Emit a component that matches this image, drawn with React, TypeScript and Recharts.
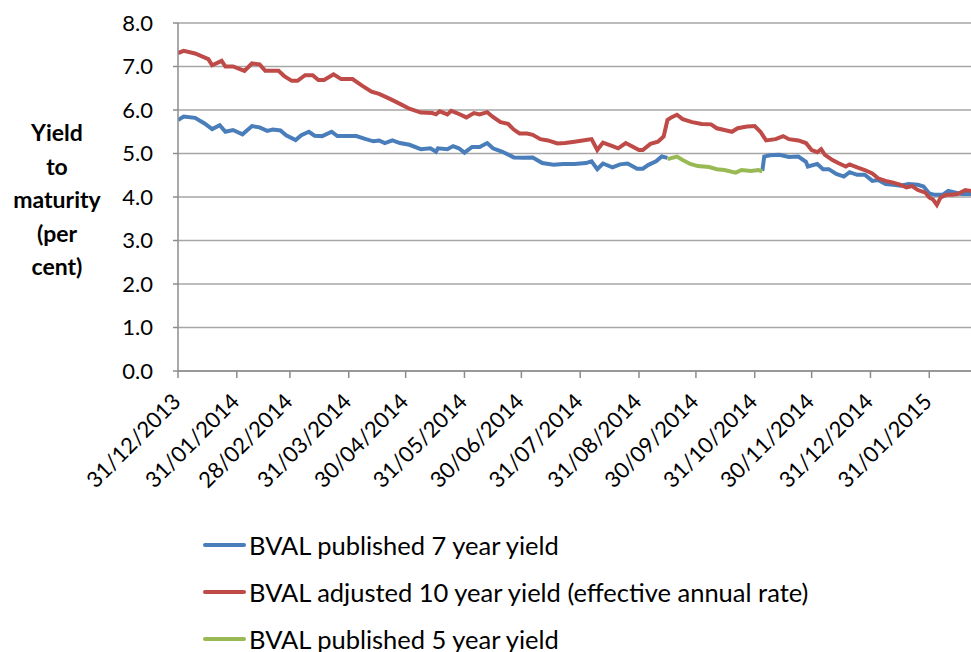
import { CartesianGrid, Legend, Line, LineChart, XAxis, YAxis } from "recharts";

const sevenYearDates = [
  "2013-12-31", "2014-01-03", "2014-01-09", "2014-01-14", "2014-01-18", "2014-01-22", "2014-01-25", "2014-01-29",
  "2014-02-03", "2014-02-08", "2014-02-12", "2014-02-16", "2014-02-19", "2014-02-23", "2014-02-26", "2014-03-03",
  "2014-03-06", "2014-03-10", "2014-03-13", "2014-03-17", "2014-03-22", "2014-03-25", "2014-03-31", "2014-04-04",
  "2014-04-09", "2014-04-13", "2014-04-16", "2014-04-19", "2014-04-23", "2014-04-27", "2014-05-02", "2014-05-08",
  "2014-05-13", "2014-05-16", "2014-05-17", "2014-05-22", "2014-05-25", "2014-05-28", "2014-05-31", "2014-06-04",
  "2014-06-08", "2014-06-12", "2014-06-15", "2014-06-20", "2014-06-26", "2014-07-01", "2014-07-06", "2014-07-11",
  "2014-07-17", "2014-07-22", "2014-07-28", "2014-08-03", "2014-08-06", "2014-08-09", "2014-08-12", "2014-08-17",
  "2014-08-21", "2014-08-25", "2014-08-30", "2014-09-02", "2014-09-05", "2014-09-09", "2014-09-12", "2014-09-15",
  "2014-10-01",
  "2014-11-04", "2014-11-05", "2014-11-08", "2014-11-13", "2014-11-18", "2014-11-23", "2014-11-27", "2014-11-28",
  "2014-12-03", "2014-12-06", "2014-12-09", "2014-12-13", "2014-12-17", "2014-12-20", "2014-12-24", "2014-12-28",
  "2015-01-01", "2015-01-04", "2015-01-08", "2015-01-12", "2015-01-16", "2015-01-20", "2015-01-25", "2015-01-28",
  "2015-01-31", "2015-02-03", "2015-02-07", "2015-02-10", "2015-02-14", "2015-02-17", "2015-02-22",
];
const sevenYearYield = [
  5.77, 5.85, 5.82, 5.69, 5.56, 5.65, 5.5, 5.54,
  5.44, 5.63, 5.6, 5.52, 5.55, 5.53, 5.42, 5.31,
  5.42, 5.5, 5.41, 5.4, 5.5, 5.4, 5.4, 5.4,
  5.33, 5.28, 5.3, 5.24, 5.3, 5.24, 5.2, 5.1,
  5.12, 5.04, 5.12, 5.1, 5.17, 5.12, 5.02, 5.15,
  5.15, 5.24, 5.12, 5.04, 4.91, 4.9, 4.91, 4.78,
  4.74, 4.76, 4.76, 4.78, 4.82, 4.64, 4.77, 4.68,
  4.75, 4.77, 4.65, 4.65, 4.74, 4.82, 4.93, 4.9,
  null,
  4.6, 4.93, 4.96, 4.97, 4.92, 4.93, 4.81, 4.7,
  4.76, 4.64, 4.64, 4.53, 4.47, 4.57, 4.51, 4.51,
  4.37, 4.39, 4.3, 4.28, 4.26, 4.3, 4.28, 4.24,
  4.08, 4.05, 4.05, 4.14, 4.1, 4.07, 4.07,
];

const tenYearDates = [
  "2013-12-31", "2014-01-03", "2014-01-09", "2014-01-16", "2014-01-18", "2014-01-23", "2014-01-25", "2014-01-29",
  "2014-02-01", "2014-02-04", "2014-02-08", "2014-02-12", "2014-02-15", "2014-02-19", "2014-02-22", "2014-02-25",
  "2014-03-01", "2014-03-04", "2014-03-08", "2014-03-12", "2014-03-15", "2014-03-18", "2014-03-23", "2014-03-27",
  "2014-04-02", "2014-04-07", "2014-04-12", "2014-04-16", "2014-04-22", "2014-04-27", "2014-05-02", "2014-05-08",
  "2014-05-14", "2014-05-16", "2014-05-18", "2014-05-22", "2014-05-24", "2014-05-27", "2014-06-01", "2014-06-05",
  "2014-06-08", "2014-06-12", "2014-06-15", "2014-06-19", "2014-06-23", "2014-06-26", "2014-06-29", "2014-07-03",
  "2014-07-06", "2014-07-10", "2014-07-14", "2014-07-19", "2014-07-23", "2014-07-28", "2014-08-03", "2014-08-06",
  "2014-08-09", "2014-08-12", "2014-08-17", "2014-08-20", "2014-08-24", "2014-08-27", "2014-08-31", "2014-09-02",
  "2014-09-06", "2014-09-10", "2014-09-13", "2014-09-15", "2014-09-17", "2014-09-20", "2014-09-23", "2014-09-28",
  "2014-10-03", "2014-10-08", "2014-10-11", "2014-10-15", "2014-10-19", "2014-10-22", "2014-10-27", "2014-10-31",
  "2014-11-03", "2014-11-06", "2014-11-11", "2014-11-15", "2014-11-18", "2014-11-23", "2014-11-27", "2014-11-30",
  "2014-12-03", "2014-12-05", "2014-12-07", "2014-12-11", "2014-12-14", "2014-12-18", "2014-12-20", "2014-12-24",
  "2014-12-28", "2015-01-01", "2015-01-04", "2015-01-08", "2015-01-12", "2015-01-16", "2015-01-19", "2015-01-22",
  "2015-01-25", "2015-01-29", "2015-01-31", "2015-02-02", "2015-02-04", "2015-02-06", "2015-02-09", "2015-02-12",
  "2015-02-15", "2015-02-19", "2015-02-22",
];
const tenYearYield = [
  7.31, 7.36, 7.3, 7.17, 7.03, 7.13, 7.0, 7.0,
  6.95, 6.9, 7.07, 7.05, 6.9, 6.9, 6.9, 6.78,
  6.67, 6.67, 6.8, 6.8, 6.69, 6.69, 6.82, 6.71,
  6.71, 6.56, 6.42, 6.37, 6.25, 6.14, 6.03, 5.94,
  5.93, 5.9, 5.97, 5.9, 5.98, 5.93, 5.83, 5.93,
  5.9, 5.95, 5.84, 5.72, 5.68, 5.55, 5.46, 5.46,
  5.43, 5.33, 5.3, 5.23, 5.24, 5.27, 5.31, 5.33,
  5.08, 5.25, 5.17, 5.12, 5.24, 5.17, 5.08, 5.08,
  5.22, 5.27, 5.39, 5.77, 5.83, 5.89, 5.79, 5.72,
  5.68, 5.67, 5.58, 5.54, 5.5, 5.58, 5.62, 5.63,
  5.5, 5.3, 5.33, 5.4, 5.33, 5.3, 5.24, 5.08,
  5.03, 5.1, 4.97, 4.85, 4.78, 4.7, 4.75, 4.68,
  4.62, 4.54, 4.43, 4.37, 4.33, 4.28, 4.22, 4.25,
  4.16, 4.1, 3.99, 3.94, 3.82, 3.99, 4.05, 4.05,
  4.07, 4.16, 4.14,
];

const fiveYearDates = [
  "2014-09-15", "2014-09-20", "2014-09-23", "2014-09-27", "2014-10-01", "2014-10-07", "2014-10-11",
  "2014-10-15", "2014-10-21", "2014-10-24", "2014-10-29", "2014-11-02", "2014-11-04",
];
const fiveYearYield = [4.87, 4.93, 4.85, 4.76, 4.71, 4.69, 4.64, 4.62, 4.56, 4.62, 4.6, 4.62, 4.59];

const tickDates = [
  "2013-12-31", "2014-01-31", "2014-02-28", "2014-03-31", "2014-04-30", "2014-05-31", "2014-06-30",
  "2014-07-31", "2014-08-31", "2014-09-30", "2014-10-31", "2014-11-30", "2014-12-31", "2015-01-31",
];
const yTicks = [0, 1, 2, 3, 4, 5, 6, 7, 8];
const axisStart = "2013-12-31";
const axisEnd = "2015-02-22";

const seriesNames = [
  "BVAL published 7 year yield",
  "BVAL adjusted 10 year yield (effective annual rate)",
  "BVAL published 5 year yield",
];
const colors = ["#4a7ebb", "#be4b48", "#98b954"];

const toTime = (d: string) => Date.parse(d + "T00:00:00Z");
const fmtDate = (t: number) => {
  const d = new Date(t);
  const dd = String(d.getUTCDate()).padStart(2, "0");
  const mm = String(d.getUTCMonth() + 1).padStart(2, "0");
  return `${dd}/${mm}/${d.getUTCFullYear()}`;
};

const build = (dates: string[], values: (number | null)[]) =>
  dates.map((d, i) => ({ t: toTime(d), v: values[i] }));

const sevenData = build(sevenYearDates, sevenYearYield);
const tenData = build(tenYearDates, tenYearYield);
const fiveData = build(fiveYearDates, fiveYearYield);

const FONT = "Lato, 'Open Sans', sans-serif";

function DateTick({ x, y, payload }: any) {
  return (
    <g transform={`translate(${x + 4},${y + 25}) rotate(-45)`}>
      <text textAnchor="end" fontSize={22} fontFamily={FONT} fill="#000">
        {fmtDate(payload.value)}
      </text>
    </g>
  );
}

function YTitle() {
  const lines = ["Yield", "to", "maturity", "(per", "cent)"];
  return (
    <text textAnchor="middle" fontSize={23} fontWeight="bold" fontFamily={FONT} fill="#000">
      {lines.map((l, i) => (
        <tspan key={l} x={57} y={141 + i * 33.5}>
          {l}
        </tspan>
      ))}
    </text>
  );
}

function LegendBox() {
  return (
    <div style={{ fontFamily: FONT, fontSize: 25.5, color: "#000" }}>
      {seriesNames.map((n, i) => (
        <div key={n} style={{ display: "flex", alignItems: "center", height: 47 }}>
          <div style={{ width: 43, height: 4, background: colors[i], borderRadius: 2, marginRight: 3 }} />
          <span>{n}</span>
        </div>
      ))}
    </div>
  );
}

export default function App() {
  return (
    <div style={{ position: "absolute", left: 0, top: 0, width: 971, height: 652, background: "#fff" }}>
      <LineChart width={971} height={652} margin={{ top: 23, right: 0, left: 0, bottom: 0 }}>
        <CartesianGrid vertical={false} stroke="#a6a6a6" strokeWidth={1.5} />
        <XAxis
          type="number"
          dataKey="t"
          domain={[toTime(axisStart), toTime(axisEnd)]}
          ticks={tickDates.map(toTime)}
          interval={0}
          tick={<DateTick />}
          tickSize={7}
          tickMargin={0}
          stroke="#8c8c8c"
          strokeWidth={1.5}
          allowDataOverflow
          height={281}
        />
        <YAxis
          width={178}
          domain={[0, 8]}
          ticks={yTicks}
          interval={0}
          tickFormatter={(v: number) => v.toFixed(1)}
          tickSize={5}
          tickMargin={20}
          stroke="#8c8c8c"
          strokeWidth={1.5}
          tick={{ fontSize: 22, fontFamily: FONT, fill: "#000" }}
          label={{ content: () => <YTitle /> }}
        />
        <Line data={sevenData} dataKey="v" name={seriesNames[0]} stroke={colors[0]} strokeWidth={4} dot={false} isAnimationActive={false} />
        <Line data={tenData} dataKey="v" name={seriesNames[1]} stroke={colors[1]} strokeWidth={4} dot={false} isAnimationActive={false} />
        <Line data={fiveData} dataKey="v" name={seriesNames[2]} stroke={colors[2]} strokeWidth={4} dot={false} isAnimationActive={false} />
        <Legend
          layout="vertical"
          align="center"
          verticalAlign="middle"
          content={() => <LegendBox />}
          wrapperStyle={{ left: 203, top: 521, width: 760 }}
        />
      </LineChart>
    </div>
  );
}
